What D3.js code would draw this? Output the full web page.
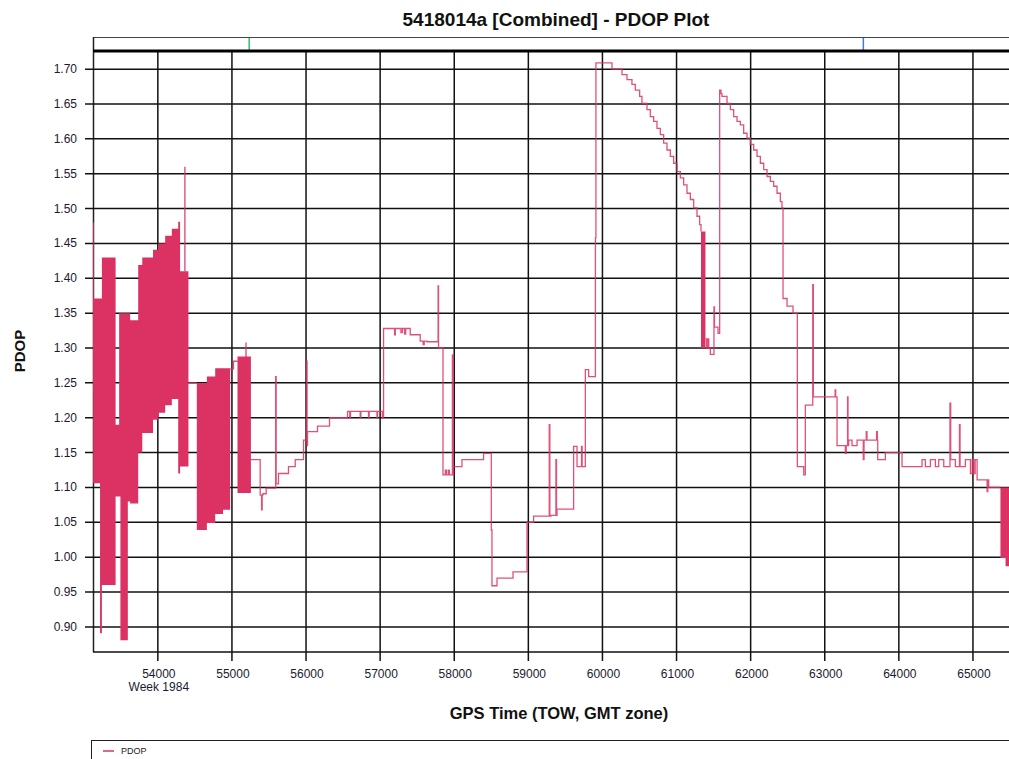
<!DOCTYPE html>
<html><head><meta charset="utf-8">
<script src="https://cdn.jsdelivr.net/npm/d3@7"></script>
<style>body{margin:0;background:#fff;overflow:hidden}svg{display:block;font-family:"Liberation Sans",Arial,sans-serif}</style>
</head><body>
<svg id="c" width="1009" height="759"></svg>
<script>
// ---- data ----
const xTicks = [54000,55000,56000,57000,58000,59000,60000,61000,62000,63000,64000,65000];
const xTickLabels = ["54000\nWeek 1984","55000","56000","57000","58000","59000","60000","61000","62000","63000","64000","65000"];
const yTicks = [0.90,0.95,1.00,1.05,1.10,1.15,1.20,1.25,1.30,1.35,1.40,1.45,1.50,1.55,1.60,1.65,1.70];

// step line (TOW seconds, PDOP); null = gap (dense region drawn as band)
const lineT = [54413,54526,54527,
  54976,55021,55075,55076,
  55256,55381,55400,55408,55418,55462,55590,55597,55628,55763,55854,55966,56008,56014,56020,56155,56317,
  56560,56590,56600,56731,56740,56843,56852,56957,56966,57030,57046,57195,57205,57281,57300,57330,57345,57406,
  57541,57580,57595,57632,57782,57788,57848,57880,57895,57920,57935,57975,57985,57991,58104,58396,58500,58509,
  58577,58793,58982,59071,59282,59290,59306,59372,59380,59387,59611,59657,59718,59726,59769,59814,59905,59912,
  60129,60264,60331,60398,60443,60502,60533,60601,60646,60691,60736,60781,60826,60871,60916,60961,61006,61051,
  61096,61141,61186,61231,61276,61312,61330,61331,
  61390,61405,61420,61435,61456,61505,61512,61560,61582,61600,61613,61681,61726,61771,61816,61861,61906,61951,
  61996,62041,62086,62131,62176,62221,62266,62311,62356,62401,62423,62437,62491,62572,62630,62716,62738,62838,
  62846,63140,63148,63166,63278,63290,63308,63314,63323,63368,63436,63520,63530,63560,63570,63700,63710,63715,
  63818,64043,64313,64358,64426,64493,64538,64606,64690,64700,64763,64818,64826,64898,64966,64990,65011,65030,
  65056,65191,65200,65213,65371];
const lineV = [1.250,1.250,null,
  1.270,1.281,1.281,null,
  1.140,1.089,1.068,1.089,1.091,1.099,1.259,1.105,1.120,1.130,1.140,1.168,1.281,1.160,1.180,1.188,1.200,
  1.209,1.200,1.209,1.200,1.209,1.200,1.209,1.200,1.209,1.200,1.328,1.319,1.328,1.322,1.328,1.320,1.328,1.319,
  1.310,1.305,1.310,1.309,1.389,1.300,1.118,1.125,1.118,1.125,1.118,1.290,1.118,1.130,1.140,1.149,1.039,0.959,
  0.970,0.979,1.050,1.059,1.190,1.059,1.060,1.140,1.060,1.069,1.159,1.130,1.159,1.130,1.269,1.259,1.458,1.709,
  1.700,1.692,1.685,1.678,1.670,1.661,1.651,1.642,1.632,1.625,1.615,1.606,1.594,1.584,1.575,1.565,1.553,1.544,
  1.534,1.522,1.513,1.501,1.489,1.477,1.467,null,
  1.313,1.300,1.313,1.300,1.291,1.359,1.330,1.321,1.670,1.665,1.661,1.651,1.642,1.632,1.625,1.620,1.608,1.601,
  1.592,1.584,1.575,1.565,1.556,1.546,1.539,1.532,1.522,1.510,1.501,1.371,1.360,1.350,1.130,1.118,1.218,1.391,
  1.230,1.240,1.230,1.160,1.149,1.160,1.230,1.160,1.168,1.160,1.168,1.140,1.168,1.180,1.168,1.180,1.168,1.140,
  1.150,1.130,1.140,1.130,1.140,1.130,1.140,1.130,1.221,1.140,1.130,1.190,1.130,1.140,1.120,1.140,1.120,1.140,
  1.111,1.094,1.111,1.100,1.100];

// dense (rapidly alternating) regions: start time, upper and lower envelope
const bandT  = [53127,53220,53245,53430,53478,53495,53595,53626,53735,53790,53935,54008,54099,54189,54275,54300,54413,null,
                54526,54662,54774,54880,54976,null,
                55075,55256,null,
                61330,61390,null,
                65371,65440,65520];
const bandHi = [1.371,1.371,1.430,1.190,1.350,1.350,1.350,1.340,1.419,1.430,1.441,1.450,1.461,1.471,1.481,1.410,1.410,null,
                1.250,1.259,1.271,1.271,1.271,null,
                1.288,1.288,null,
                1.467,1.467,null,
                1.100,1.100,1.100];
const bandLo = [1.106,0.891,0.960,1.087,1.087,0.881,1.080,1.077,1.150,1.178,1.197,1.207,1.218,1.227,1.120,1.130,1.130,null,
                1.039,1.049,1.062,1.068,1.068,null,
                1.092,1.092,null,
                1.300,1.300,null,
                0.999,0.987,0.987];

// single spikes inside dense regions
const spikeT  = [53128,54365,55190];
const spikeHi = [1.480,1.560,1.308];
const spikeLo = [1.240,1.410,1.280];

// markers in the top strip
const markerT = [55233,63521];
const markerColor = ["#2fbf71","#3b7fd4"];

// ---- drawing ----
const svg = d3.select("#c");
const L = 93, R = 1010, T = 51, B = 652;
const x = d3.scaleLinear().domain([53125,65500]).range([L,R]);
const y = d3.scaleLinear().domain([0.864,1.726]).range([B,T]);
const col = "#db3263";

svg.append("text").attr("x",556).attr("y",26).attr("text-anchor","middle")
  .attr("font-weight","bold").attr("font-size",19).attr("fill","#111")
  .text("5418014a [Combined] - PDOP Plot");

// top strip
svg.append("line").attr("x1",L).attr("x2",R).attr("y1",37.5).attr("y2",37.5).attr("stroke","#444").attr("stroke-width",1.2);
svg.append("line").attr("x1",L+0.5).attr("x2",L+0.5).attr("y1",37).attr("y2",B).attr("stroke","#222").attr("stroke-width",1.5);
svg.selectAll(".mk").data(markerT).join("line")
  .attr("x1",d=>x(d)).attr("x2",d=>x(d)).attr("y1",38).attr("y2",50)
  .attr("stroke",(d,i)=>markerColor[i]).attr("stroke-width",1.5);

// grid
const g = svg.append("g");
g.selectAll(".gx").data(xTicks).join("line")
  .attr("x1",d=>x(d)).attr("x2",d=>x(d)).attr("y1",T).attr("y2",B+9)
  .attr("stroke","#111").attr("stroke-width",1.5);
g.selectAll(".gy").data(yTicks).join("line")
  .attr("x1",L-8).attr("x2",R).attr("y1",d=>y(d)).attr("y2",d=>y(d))
  .attr("stroke","#111").attr("stroke-width",1.5);

// frame
svg.append("line").attr("x1",L).attr("x2",R).attr("y1",B).attr("y2",B).attr("stroke","#111").attr("stroke-width",1.6);
svg.append("line").attr("x1",L).attr("x2",R).attr("y1",T).attr("y2",T).attr("stroke","#000").attr("stroke-width",3);

// y labels
svg.selectAll(".yl").data(yTicks).join("text")
  .attr("x",77).attr("y",d=>y(d)+4).attr("text-anchor","end")
  .attr("font-size",12).attr("fill","#1a1a30").text(d3.format(".2f"));

// x labels
const xl = svg.selectAll(".xl").data(xTicks).join("text")
  .attr("x",d=>x(d)+1).attr("y",678).attr("text-anchor","middle")
  .attr("font-size",12).attr("fill","#1a1a30");
xl.each(function(d,i){
  const parts = xTickLabels[i].split("\n");
  d3.select(this).selectAll("tspan").data(parts).join("tspan")
    .attr("x",x(d)+1).attr("dy",(p,j)=>j?13:0).text(p=>p);
});

svg.append("text").attr("x",559).attr("y",719).attr("text-anchor","middle")
  .attr("font-weight","bold").attr("font-size",16.5).attr("fill","#111")
  .text("GPS Time (TOW, GMT zone)");
svg.append("text").attr("transform","translate(25,351) rotate(-90)").attr("text-anchor","middle")
  .attr("font-weight","bold").attr("font-size",15).attr("fill","#111").text("PDOP");

// data
const clip = svg.append("clipPath").attr("id","pc").append("rect")
  .attr("x",L).attr("y",T).attr("width",R-L).attr("height",B-T);
const pg = svg.append("g").attr("clip-path","url(#pc)");

const bands = bandT.map((t,i)=>({t,hi:bandHi[i],lo:bandLo[i]}));
pg.append("path").datum(bands)
  .attr("d",d3.area().defined(d=>d.t!=null).curve(d3.curveStepAfter)
    .x(d=>x(d.t)).y0(d=>y(d.lo)).y1(d=>y(d.hi)))
  .attr("fill",col);

const pts = lineT.map((t,i)=>({t,v:lineV[i]}));
pg.append("path").datum(pts)
  .attr("d",d3.line().defined(d=>d.v!=null).curve(d3.curveStepAfter).x(d=>x(d.t)).y(d=>y(d.v)))
  .attr("fill","none").attr("stroke",col).attr("stroke-width",1.3).attr("stroke-opacity",0.85);

pg.selectAll(".sp").data(spikeT).join("line")
  .attr("x1",d=>x(d)).attr("x2",d=>x(d))
  .attr("y1",(d,i)=>y(spikeHi[i])).attr("y2",(d,i)=>y(spikeLo[i]))
  .attr("stroke",col).attr("stroke-width",1.4).attr("stroke-opacity",0.85);

// legend
svg.append("rect").attr("x",91.5).attr("y",740.5).attr("width",1000).attr("height",40)
  .attr("fill","none").attr("stroke","#222").attr("stroke-width",1);
svg.append("line").attr("x1",103).attr("x2",114).attr("y1",751).attr("y2",751).attr("stroke",col).attr("stroke-width",1.5);
svg.append("text").attr("x",121).attr("y",754).attr("font-size",9).attr("fill","#222").text("PDOP");
</script>
</body></html>
